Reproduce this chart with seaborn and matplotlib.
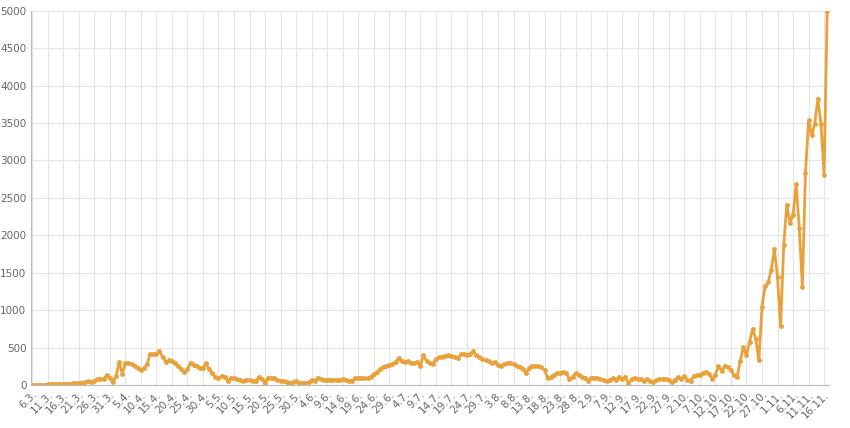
import matplotlib
matplotlib.use("Agg")
import matplotlib.pyplot as plt
import seaborn as sns
import pandas as pd
import numpy as np

mar = [0,3,5,5,7,10,12,15,12,15,10,15,20,25,25,30,35,40,50,40,60,80,85,80,135,90]
apr = [45,120,308,155,290,300,280,250,230,200,230,280,420,410,410,450,380,310,330,320,300,250,220,170,210,300,270,250,230,230]
may = [290,210,160,110,100,120,115,60,100,90,80,70,60,75,70,60,55,110,80,30,100,90,100,70,60,50,40,30,40,50,30]
jun = [30,25,40,70,60,100,80,75,70,70,75,70,75,80,70,60,60,90,95,95,90,95,110,150,170,210,240,260,270,280]
jul = [310,360,320,310,320,300,290,310,250,400,320,290,280,350,370,380,390,400,390,380,360,410,420,400,410,450,400,380,350,330,320]
aug = [300,310,270,250,280,290,300,280,260,240,210,160,230,260,250,250,240,200,100,110,140,160,165,170,160,80,110,160,130,110,90]
sep = [60,100,100,95,80,70,50,70,90,70,110,80,110,20,80,100,80,80,60,80,50,40,70,80,80,80,70,40,70,110]
octo = [80,120,70,60,120,130,140,160,180,150,80,140,250,190,260,240,200,130,110,
        323,510,403,576,754,612,332,1047,1321,1374,1543,1818]
nov = [1446,789,1871,2407,2172,2274,2682,2105,1312,2828,3537,3338,3493,3826,3484,2806,5000]

values = mar + apr + may + jun + jul + aug + sep + octo + nov
dates = pd.date_range("2020-03-06", periods=len(values), freq="D")
labels = [f"{d.day}.{d.month}." for d in dates]
df = pd.DataFrame({"i": np.arange(len(values)), "v": values})

sns.set_style("whitegrid")
fig, ax = plt.subplots(figsize=(8.5, 4.28), dpi=100)
sns.lineplot(data=df, x="i", y="v", ax=ax, color="#E9A23B", linewidth=2,
             marker="o", markersize=3.5, markeredgewidth=0)
ax.set_xlim(-0.5, len(values) - 0.5)
ax.set_ylim(0, 5000)
ax.set_yticks(range(0, 5001, 500))
ax.set_xticks(df["i"][::5])
ax.set_xticklabels(labels[::5], rotation=45, ha="right", rotation_mode="anchor")
ax.set_xlabel("")
ax.set_ylabel("")
ax.tick_params(labelsize=7.5, colors="#666666", length=0, pad=3)
ax.grid(color="#e5e5e5", linewidth=0.8)
for s in ["top", "right"]:
    ax.spines[s].set_visible(False)
ax.spines["left"].set_color("#bbbbbb")
ax.spines["bottom"].set_color("#bbbbbb")
plt.subplots_adjust(left=0.036, right=0.975, top=0.975, bottom=0.1)
fig.savefig("out.png", dpi=100)
